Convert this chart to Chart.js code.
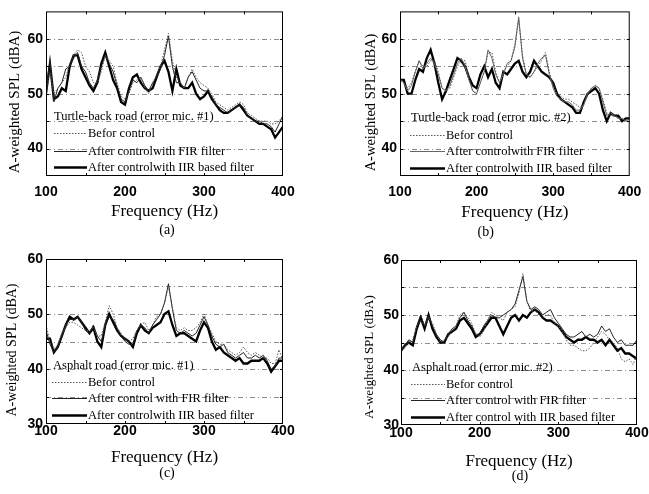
<!DOCTYPE html>
<html>
<head>
<meta charset="utf-8">
<script src="https://cdn.jsdelivr.net/npm/chart.js@4"></script>
<style>
  html, body { margin: 0; padding: 0; background: #fff; }
  body { width: 649px; height: 494px; position: relative; overflow: hidden; }
  canvas { position: absolute; }
</style>
</head>
<body>
<canvas id="pa" width="320" height="240" style="left:0;top:0"></canvas>
<canvas id="pb" width="329" height="240" style="left:320px;top:0"></canvas>
<canvas id="pc" width="320" height="254" style="left:0;top:240px"></canvas>
<canvas id="pd" width="329" height="254" style="left:320px;top:240px"></canvas>
<script>
// Frequency axis (Hz)
const freq = [
  100, 105, 110, 115, 120, 125, 130, 135, 140, 145,
  150, 155, 160, 165, 170, 175, 180, 185, 190, 195,
  200, 205, 210, 215, 220, 225, 230, 235, 240, 245,
  250, 255, 260, 265, 270, 275, 280, 285, 290, 295,
  300, 305, 310, 315, 320, 325, 330, 335, 340, 345,
  350, 355, 360, 365, 370, 375, 380, 385, 390, 395,
  400
];

// (a) Turtle-back road, error mic. #1  (dBA)
const aBefore = [
  50, 54, 50, 51, 52, 53, 55.5, 57, 58, 57.5,
  55, 54, 52, 52, 54, 57, 56, 55, 52, 49.5,
  49, 50, 52, 52.5, 53, 51, 50, 52, 53.5, 55,
  58, 61, 56, 53, 52, 51, 53, 54.5, 53, 52,
  51.5, 51, 50, 48.5, 48, 47.5, 47, 47.5, 48, 48.5,
  48, 46.5, 46, 45.5, 45, 45, 45, 44.5, 44.5, 45,
  46
];
const aFIR = [
  50.5, 56, 48.5, 51, 52, 54.5, 55, 56.5, 57.5, 55,
  54, 52, 51, 52.5, 55, 57, 55.5, 54, 51.5, 49,
  48.5, 50.5, 52.5, 52, 53, 51.5, 50.5, 52, 53, 54.5,
  57, 60.5, 55, 52, 52, 51, 53, 54, 52.5, 51,
  50.5, 50.5, 49.5, 48, 47.5, 47, 46.5, 47, 47.5, 48,
  47.5, 46, 45.5, 45, 45, 44.5, 44.5, 44, 43, 44.5,
  46
];
const aIIR = [
  50, 55.5, 49, 49.5, 51, 50.5, 55, 57, 57, 54.5,
  53, 51.5, 50.5, 52, 55.5, 57.5, 55, 52.5, 51, 48.5,
  48, 51, 53, 53.5, 52, 51, 50.5, 51, 53, 55,
  56, 54, 50.5, 54.5, 51.5, 51, 51, 52, 50, 49,
  49.5, 50.5, 49, 48, 47, 46.5, 46.5, 47, 47.5, 48,
  47, 46, 45.5, 45, 44.5, 44.5, 44, 43.5, 42, 43,
  44
];

// (b) Turtle-back road, error mic. #2  (dBA)
const bBefore = [
  53, 52, 51, 52, 54, 56, 55, 55, 56, 56,
  54, 51, 50.5, 51, 53, 55, 56, 56, 53, 50.5,
  50, 52, 54, 57.5, 57.5, 54, 52, 54, 55, 56,
  59, 63.5, 57, 53.5, 53, 54, 55, 56, 57.5, 54,
  51.5, 50, 49.5, 49, 49, 48.5, 48, 47.5, 48, 50,
  51, 51.5, 51, 49, 46.5, 46, 46, 45.5, 45.5, 45,
  45.5
];
const bFIR = [
  52.5, 52, 50.5, 51.5, 54, 56, 54.5, 55.5, 56.5, 55.5,
  53.5, 51, 50.5, 51.5, 53.5, 55.5, 56.5, 55, 52.5, 50.5,
  50, 52, 54, 58, 56.5, 53.5, 52, 53.5, 55.5, 56,
  58.5, 64, 56.5, 53.5, 53, 54, 55.5, 56.5, 57, 53.5,
  51, 49.5, 49, 48.5, 48.5, 48, 47, 47, 48, 50,
  51, 51.5, 51, 48.5, 46, 46.5, 46, 45.5, 45.5, 45,
  45.5
];
const bIIR = [
  52.5, 52.5, 50, 50, 52.5, 54.5, 54, 56.5, 58, 55.5,
  52, 49, 50.5, 52.5, 54.5, 56.5, 56, 55, 53, 51.5,
  51, 53.5, 55, 53, 54.5, 52, 51, 54, 53.5, 54.5,
  55.5, 56, 54, 53, 54, 56, 55, 54, 53.5, 53,
  52, 50, 49, 48.5, 48, 47.5, 46.5, 46.5, 48.5, 50,
  50.5, 51, 50, 47, 45, 46.5, 46, 46, 45, 45.5,
  45.5
];

// (c) Asphalt road, error mic. #1  (dBA)
const cBefore = [
  48, 45, 43.5, 44.5, 46.5, 47.5, 48.5, 48.5, 48, 47.5,
  47, 47, 47.5, 46, 46, 48.5, 51.5, 50, 47.5, 46.5,
  45.5, 45, 45.5, 47, 48, 48.5, 47, 48, 49.5, 50,
  52, 55, 51, 47.5, 47, 47.5, 47, 47, 47.5, 48.5,
  50, 48, 46.5, 45, 44.5, 44.5, 43.5, 43, 42.5, 43,
  44, 43, 42.5, 43, 42.5, 42, 42, 41, 41, 43.5,
  41.5
];
const cFIR = [
  47, 44.5, 43, 44, 46, 48, 49, 49, 49.5, 48.5,
  47, 46.5, 48, 46, 45, 48, 49.5, 49, 47.5, 46,
  45, 44.5, 44.5, 47, 48, 47.5, 46.5, 48, 49, 50,
  52, 55.5, 51, 47, 46.5, 47, 46.5, 46, 46.5, 48,
  49.5, 48, 46, 44.5, 44, 44.5, 43, 42.5, 42, 42.5,
  43, 42, 42, 42.5, 42, 42.5, 41.5, 40, 40.5, 42,
  42
];
const cIIR = [
  45.5, 45.5, 43, 44, 46, 48, 49.5, 49, 49.5, 48.5,
  47.5, 46.5, 47.5, 45, 44, 48, 50, 48.5, 47, 46,
  45.5, 45, 44, 46.5, 48, 47, 46.5, 47.5, 48, 48.5,
  50, 50.5, 48, 46, 46.5, 46.5, 46, 45.5, 45, 47,
  48.5, 47.5, 45, 43.5, 44, 43, 42.5, 42, 41.5, 42,
  41, 41, 41.5, 41.5, 41.5, 42, 41, 39.5, 40.5, 41.5,
  41.5
];

// (d) Asphalt road, error mic. #2  (dBA)
const dBefore = [
  44, 44, 45, 45.5, 48, 49, 48, 49.5, 48.5, 46.5,
  45, 45.5, 46, 47, 48, 50, 50.5, 49.5, 48.5, 46.5,
  46, 47, 49, 50.5, 50, 49.5, 49, 50.5, 51, 51.5,
  54, 57.5, 52.5, 50.5, 51, 50, 49.5, 50, 50, 48.5,
  48, 47, 45.5, 44.5, 44.5, 44, 43.5, 43.5, 44, 45,
  46, 47, 46.5, 45.5, 45, 44, 42, 41.5, 42, 41,
  43
];
const dFIR = [
  43.5, 44.5, 45.5, 45, 48, 50, 48, 50, 48, 46.5,
  45.5, 45, 46.5, 47.5, 48, 49.5, 50.5, 49, 48, 46.5,
  46.5, 48, 49, 50, 49.5, 49.5, 50, 50.5, 51, 52,
  54.5, 57, 52.5, 51, 51.5, 51, 50, 50.5, 51, 49.5,
  48.5, 47.5, 46.5, 46, 46, 46.5, 47, 46, 46.5, 46,
  46.5, 48, 47, 47.5, 46, 45, 45.5, 44.5, 44.5, 44.5,
  45.5
];
const dIIR = [
  43.5, 44.5, 45, 44.5, 47.5, 49.5, 47.5, 50, 47.5, 46,
  45, 45, 46.5, 47, 47.5, 49, 49.5, 48.5, 47.5, 46,
  46.5, 47.5, 48.5, 49.5, 49.5, 48, 46.5, 48, 49.5, 50,
  49, 50, 49.5, 50.5, 51, 50.5, 49.5, 49, 49, 48.5,
  48, 47, 46, 45.5, 45, 45.5, 45.5, 46, 45.5, 45.5,
  45, 45.5, 44.5, 45.5, 44.5, 43.5, 44, 43, 43, 42.5,
  42
];

const SERIF = '"Liberation Serif", "Times New Roman", serif';
const SANS = '"Liberation Sans", Arial, sans-serif';

// Box frame, dash-dot horizontal grid and inward tick marks
const framePlugin = {
  id: 'frame',
  beforeDatasetsDraw(chart) {
    const { ctx, chartArea: a, scales: { y } } = chart;
    ctx.save();
    ctx.strokeStyle = '#8c8c8c';
    ctx.lineWidth = 1;
    ctx.setLineDash([5, 3, 1, 3]);
    for (let v = y.min + 5; v < y.max; v += 5) {
      const py = Math.round(y.getPixelForValue(v)) + 0.5;
      ctx.beginPath();
      ctx.moveTo(a.left, py);
      ctx.lineTo(a.right, py);
      ctx.stroke();
    }
    ctx.restore();
  },
  afterDatasetsDraw(chart) {
    const { ctx, chartArea: a, scales: { x, y } } = chart;
    ctx.save();
    ctx.strokeStyle = '#000';
    ctx.lineWidth = 1;
    ctx.setLineDash([]);
    ctx.strokeRect(a.left + 0.5, a.top + 0.5, a.right - a.left - 1, a.bottom - a.top - 1);
    ctx.beginPath();
    for (let f = x.min + 50; f < x.max; f += 50) {
      const px = Math.round(x.getPixelForValue(f)) + 0.5;
      ctx.moveTo(px, a.top); ctx.lineTo(px, a.top + 3);
      ctx.moveTo(px, a.bottom); ctx.lineTo(px, a.bottom - 3);
    }
    for (let v = y.min + 5; v < y.max; v += 5) {
      const py = Math.round(y.getPixelForValue(v)) + 0.5;
      ctx.moveTo(a.left, py); ctx.lineTo(a.left + 3, py);
      ctx.moveTo(a.right, py); ctx.lineTo(a.right - 3, py);
    }
    ctx.stroke();
    ctx.restore();
  }
};

// Legend block drawn inside the plot area
const insetLegend = {
  id: 'insetLegend',
  afterDraw(chart, args, o) {
    const { ctx, chartArea: a } = chart;
    ctx.save();
    ctx.font = '12.5px ' + SERIF;
    ctx.fillStyle = '#000';
    ctx.textBaseline = 'middle';
    ctx.textAlign = 'left';
    ctx.fillText(o.heading, a.left + o.headX, a.bottom + o.rows[0]);
    chart.data.datasets.forEach((ds, i) => {
      const yy = Math.round(a.bottom + o.rows[i + 1]) + 0.5;
      ctx.beginPath();
      ctx.setLineDash(ds.borderDash || []);
      ctx.lineWidth = ds.borderWidth;
      ctx.strokeStyle = ds.borderColor;
      ctx.moveTo(a.left + o.lineX0, yy);
      ctx.lineTo(a.left + o.lineX1, yy);
      ctx.stroke();
      ctx.setLineDash([]);
      ctx.fillText(ds.label, a.left + o.textX, yy);
    });
    ctx.restore();
  }
};

// Rotated y-axis title and panel caption
const captions = {
  id: 'captions',
  afterDraw(chart, args, o) {
    const { ctx } = chart;
    ctx.save();
    ctx.fillStyle = '#000';
    ctx.textAlign = 'center';
    ctx.textBaseline = 'middle';
    ctx.font = o.ySize + 'px ' + SERIF;
    ctx.translate(o.yX, o.yY);
    ctx.rotate(-Math.PI / 2);
    ctx.fillText(o.yTitle, 0, 0);
    ctx.restore();
    ctx.save();
    ctx.fillStyle = '#000';
    ctx.textAlign = 'center';
    ctx.textBaseline = 'middle';
    ctx.font = '14px ' + SERIF;
    ctx.fillText(o.caption, o.capX, o.capY);
    ctx.restore();
  }
};

function makePanel(id, p) {
  const datasets = [
    { label: 'Befor control', data: p.before, borderColor: '#555', borderWidth: 1, borderDash: [1.5, 1.5] },
    { label: p.firLabel, data: p.fir, borderColor: p.firColor, borderWidth: 1 },
    { label: p.iirLabel, data: p.iir, borderColor: '#000', borderWidth: 2.3 }
  ].map(d => Object.assign(d, {
    data: freq.map((f, i) => ({ x: f, y: d.data[i] })),
    pointRadius: 0, tension: 0, fill: false
  }));

  new Chart(document.getElementById(id), {
    type: 'line',
    data: { datasets },
    plugins: [framePlugin, insetLegend, captions],
    options: {
      responsive: false,
      animation: false,
      events: [],
      layout: { padding: { left: 0, right: p.padRight, top: p.top, bottom: 0 } },
      scales: {
        x: {
          type: 'linear', min: 100, max: 400,
          grid: { display: false, drawTicks: false },
          border: { display: false },
          ticks: {
            stepSize: 50, autoSkip: false, maxRotation: 0, padding: p.xTickPad,
            color: '#000', font: { family: SANS, size: 14, weight: 'bold' },
            callback: v => (v % 100 === 0 ? String(v) : '')
          },
          title: {
            display: true, text: 'Frequency (Hz)', color: '#000',
            font: { family: SERIF, size: 17, lineHeight: 1 },
            padding: { top: 0, bottom: p.xTitlePad }
          },
          afterFit: s => { s.height = p.xHeight; }
        },
        y: {
          min: p.yMin, max: p.yMax,
          grid: { display: false, drawTicks: false },
          border: { display: false },
          ticks: {
            stepSize: 5, autoSkip: false, padding: p.yTickPad,
            color: '#000', font: { family: SANS, size: 14, weight: 'bold' },
            callback: v => (v % 10 === 0 ? String(v) : '')
          },
          afterFit: s => { s.width = p.yWidth; }
        }
      },
      plugins: {
        legend: { display: false },
        tooltip: { enabled: false },
        insetLegend: p.legend,
        captions: {
          yTitle: 'A-weighted SPL (dBA)', ySize: p.yTitle.size, yX: p.yTitle.x, yY: p.yTitle.y,
          caption: p.caption.text, capX: p.caption.x, capY: p.caption.y
        }
      }
    }
  });
}

makePanel('pa', {
  before: aBefore, fir: aFIR, iir: aIIR, firColor: '#222',
  firLabel: 'After controlwith FIR filter', iirLabel: 'After controlwith IIR based filter',
  yMin: 35, yMax: 65, yWidth: 46, padRight: 37, top: 10, xHeight: 64,
  xTickPad: 7.6, yTickPad: 3, xTitlePad: 19.5,
  yTitle: { x: 15, y: 102, size: 15 },
  caption: { text: '(a)', x: 167, y: 230 },
  legend: { heading: 'Turtle-back road (error mic. #1)', headX: 8, rows: [-59, -43, -25, -9], lineX0: 8, lineX1: 41, textX: 42 }
});

makePanel('pb', {
  before: bBefore, fir: bFIR, iir: bIIR, firColor: '#666',
  firLabel: 'After controlwith FIR filter', iirLabel: 'After controlwith IIR based filter',
  yMin: 35, yMax: 65, yWidth: 80, padRight: 12, top: 11, xHeight: 64,
  xTickPad: 7.6, yTickPad: 3, xTitlePad: 18.5,
  yTitle: { x: 50.7, y: 102.5, size: 14.5 },
  caption: { text: '(b)', x: 165.7, y: 232 },
  legend: { heading: 'Turtle-back road (error mic. #2)', headX: 11, rows: [-58, -41, -25, -8], lineX0: 10, lineX1: 45, textX: 46 }
});

makePanel('pc', {
  before: cBefore, fir: cFIR, iir: cIIR, firColor: '#222',
  firLabel: 'After control with FIR filter', iirLabel: 'After controlwith IIR based filter',
  yMin: 30, yMax: 60, yWidth: 46, padRight: 37, top: 19, xHeight: 70,
  xTickPad: -1.4, yTickPad: 3, xTitlePad: 27.5,
  yTitle: { x: 12.7, y: 110, size: 14 },
  caption: { text: '(c)', x: 167, y: 233 },
  legend: { heading: 'Asphalt road (error mic. #1)', headX: 7, rows: [-58, -42, -26, -9], lineX0: 6, lineX1: 41, textX: 42 }
});

makePanel('pd', {
  before: dBefore, fir: dFIR, iir: dIIR, firColor: '#222',
  firLabel: 'After control with FIR filter', iirLabel: 'After control with IIR based filter',
  yMin: 30, yMax: 60, yWidth: 81, padRight: 12, top: 20, xHeight: 69,
  xTickPad: -0.7, yTickPad: 2, xTitlePad: 23.8,
  yTitle: { x: 50, y: 117, size: 13 },
  caption: { text: '(d)', x: 200, y: 236.7 },
  legend: { heading: 'Asphalt road (error mic. #2)', headX: 11, rows: [-57, -41, -25, -8], lineX0: 10, lineX1: 44, textX: 45 }
});
</script>
</body>
</html>
